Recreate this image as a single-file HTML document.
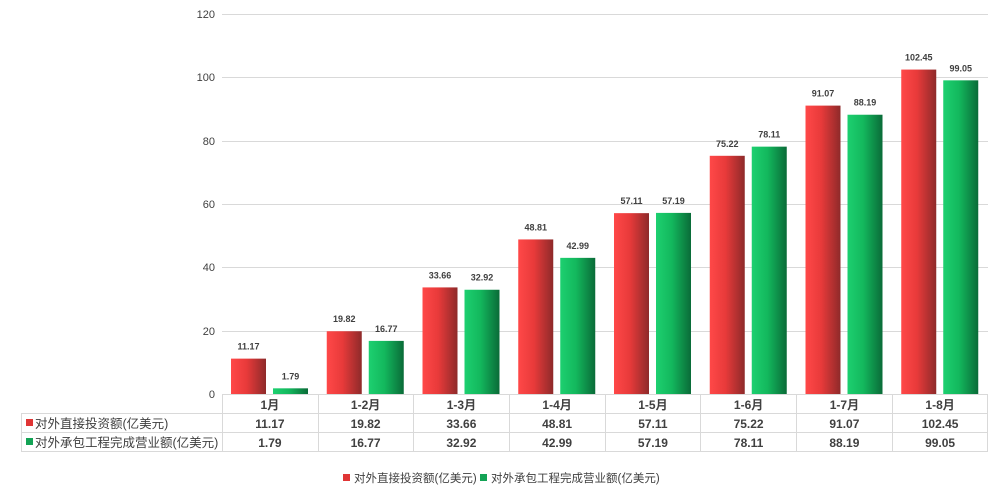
<!DOCTYPE html>
<html><head><meta charset="utf-8"><style>
body{margin:0;background:#fff;}
svg text{font-family:"Liberation Sans","Noto Sans CJK SC",sans-serif;}
</style></head><body>
<svg width="1000" height="496" xmlns="http://www.w3.org/2000/svg">
<defs>
<linearGradient id="r" x1="0" x2="1" y1="0" y2="0"><stop offset="0" stop-color="#ff4848"/><stop offset="0.45" stop-color="#e83a3a"/><stop offset="1" stop-color="#8e2a2a"/></linearGradient>
<linearGradient id="g" x1="0" x2="1" y1="0" y2="0"><stop offset="0" stop-color="#1dd070"/><stop offset="0.45" stop-color="#13b85d"/><stop offset="1" stop-color="#0a6b38"/></linearGradient>
</defs>
<g stroke="#d9d9d9" stroke-width="1">
<line x1="222" x2="988" y1="14.5" y2="14.5"/>
<line x1="222" x2="988" y1="77.5" y2="77.5"/>
<line x1="222" x2="988" y1="141.5" y2="141.5"/>
<line x1="222" x2="988" y1="204.5" y2="204.5"/>
<line x1="222" x2="988" y1="267.5" y2="267.5"/>
<line x1="222" x2="988" y1="331.5" y2="331.5"/>
</g>
<g font-size="11" fill="#404040" text-anchor="end">
<text x="215" y="18">120</text><text x="215" y="81">100</text><text x="215" y="145">80</text><text x="215" y="208">60</text><text x="215" y="271">40</text><text x="215" y="335">20</text><text x="215" y="398">0</text>
</g>
<g fill="url(#r)">
<rect x="231" y="358.63" width="35" height="35.37"/>
<rect x="326.75" y="331.24" width="35" height="62.76"/>
<rect x="422.5" y="287.41" width="35" height="106.59"/>
<rect x="518.25" y="239.43" width="35" height="154.57"/>
<rect x="614" y="213.15" width="35" height="180.85"/>
<rect x="709.75" y="155.8" width="35" height="238.2"/>
<rect x="805.5" y="105.61" width="35" height="288.39"/>
<rect x="901.25" y="69.57" width="35" height="324.43"/>
</g>
<g fill="url(#g)">
<rect x="273" y="388.33" width="35" height="5.67"/>
<rect x="368.75" y="340.89" width="35" height="53.11"/>
<rect x="464.5" y="289.75" width="35" height="104.25"/>
<rect x="560.25" y="257.86" width="35" height="136.14"/>
<rect x="656" y="212.9" width="35" height="181.1"/>
<rect x="751.75" y="146.65" width="35" height="247.35"/>
<rect x="847.5" y="114.73" width="35" height="279.27"/>
<rect x="943.25" y="80.34" width="35" height="313.66"/>
</g>
<g font-size="9" font-weight="bold" fill="#404040" text-anchor="middle">
<text x="248.5" y="349.6">11.17</text>
<text x="344.25" y="322.2">19.82</text>
<text x="440" y="278.4">33.66</text>
<text x="535.75" y="230.4">48.81</text>
<text x="631.5" y="204.2">57.11</text>
<text x="727.25" y="146.8">75.22</text>
<text x="823" y="96.6">91.07</text>
<text x="918.75" y="60.6">102.45</text>
<text x="290.5" y="379.3">1.79</text>
<text x="386.25" y="331.9">16.77</text>
<text x="482" y="280.7">32.92</text>
<text x="577.75" y="248.9">42.99</text>
<text x="673.5" y="203.9">57.19</text>
<text x="769.25" y="137.6">78.11</text>
<text x="865" y="105.7">88.19</text>
<text x="960.75" y="71.3">99.05</text>
</g>
<g stroke="#d9d9d9" stroke-width="1" fill="none">
<line x1="222" x2="988" y1="394.5" y2="394.5"/>
<line x1="21" x2="988" y1="413.5" y2="413.5"/>
<line x1="21" x2="988" y1="432.5" y2="432.5"/>
<line x1="21" x2="988" y1="451.5" y2="451.5"/>
<line x1="21.5" x2="21.5" y1="413" y2="452"/>
<line x1="222.5" x2="222.5" y1="394" y2="452"/>
<line x1="318.5" x2="318.5" y1="394" y2="452"/>
<line x1="413.5" x2="413.5" y1="394" y2="452"/>
<line x1="509.5" x2="509.5" y1="394" y2="452"/>
<line x1="605.5" x2="605.5" y1="394" y2="452"/>
<line x1="700.5" x2="700.5" y1="394" y2="452"/>
<line x1="796.5" x2="796.5" y1="394" y2="452"/>
<line x1="892.5" x2="892.5" y1="394" y2="452"/>
<line x1="987.5" x2="987.5" y1="394" y2="452"/>
</g>
<g font-size="12" font-weight="bold" fill="#404040" text-anchor="middle">
<text x="269.9" y="409">1月</text><text x="365.6" y="409">1-2月</text><text x="461.4" y="409">1-3月</text><text x="557.1" y="409">1-4月</text><text x="652.9" y="409">1-5月</text><text x="748.6" y="409">1-6月</text><text x="844.4" y="409">1-7月</text><text x="940.1" y="409">1-8月</text>
<text x="269.9" y="428">11.17</text><text x="365.6" y="428">19.82</text><text x="461.4" y="428">33.66</text><text x="557.1" y="428">48.81</text><text x="652.9" y="428">57.11</text><text x="748.6" y="428">75.22</text><text x="844.4" y="428">91.07</text><text x="940.1" y="428">102.45</text>
<text x="269.9" y="447">1.79</text><text x="365.6" y="447">16.77</text><text x="461.4" y="447">32.92</text><text x="557.1" y="447">42.99</text><text x="652.9" y="447">57.19</text><text x="748.6" y="447">78.11</text><text x="844.4" y="447">88.19</text><text x="940.1" y="447">99.05</text>
</g>
<rect x="26" y="419" width="7" height="7" fill="#e03535"/>
<rect x="26" y="438" width="7" height="7" fill="#13a355"/>
<text x="35" y="428" font-size="12.5" fill="#404040">对外直接投资额(亿美元)</text>
<text x="35" y="447" font-size="12.5" fill="#404040">对外承包工程完成营业额(亿美元)</text>
<rect x="343" y="474" width="7" height="7" fill="#e03535"/>
<text x="354" y="482" font-size="11.5" fill="#404040">对外直接投资额(亿美元)</text>
<rect x="480" y="474" width="7" height="7" fill="#13a355"/>
<text x="491" y="482" font-size="11.5" fill="#404040">对外承包工程完成营业额(亿美元)</text>
</svg>
</body></html>
